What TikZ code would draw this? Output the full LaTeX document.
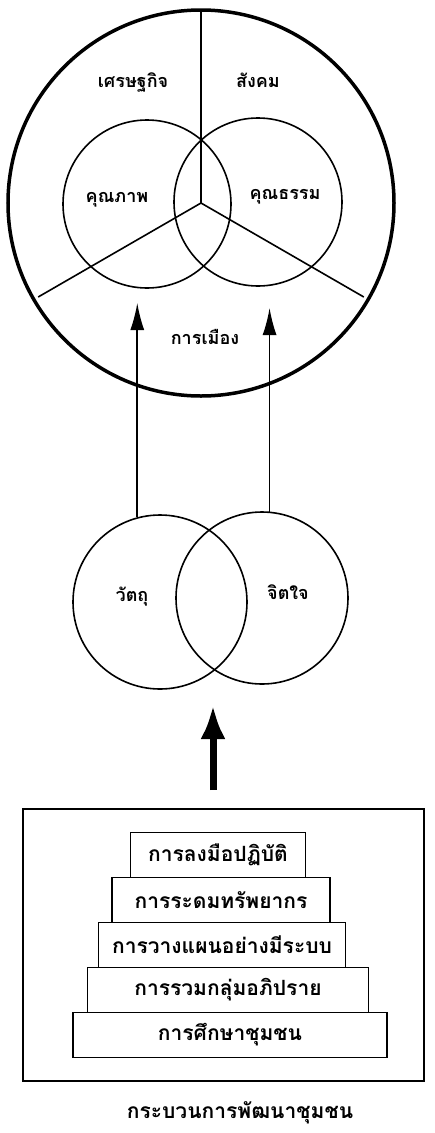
\documentclass[tikz,border=0pt]{standalone}
\usepackage{fontspec}
\usepackage{tikz}
\usetikzlibrary{arrows.meta,positioning}
\newfontfamily\thaifont[Script=Thai]{Loma}

\tikzset{
  lbl/.style={font=\thaifont\bfseries\fontsize{18}{20}\selectfont, inner sep=0pt},
  steptxt/.style={font=\thaifont\bfseries\fontsize{21}{24}\selectfont},
  ring/.style={circle, draw, line width=1.6pt, minimum size=#1, inner sep=0pt},
  stepbox/.style={draw, line width=1.6pt, fill=white, minimum height=45pt, inner sep=0pt, steptxt},
  arr/.style={line width=1.6pt, -{Latex[length=27pt,width=14pt]}},
  bigarr/.style={line width=7pt, -{Latex[length=34pt,width=25pt]}}
}

\begin{document}
\begin{tikzpicture}[x=1pt,y=-1pt]
\useasboundingbox (0,0) rectangle (434,1133);

%Big circle and its three parts
\coordinate (hub) at (201,203);
\draw[line width=3.5pt] (hub) circle (193pt);
\draw[line width=1.6pt] (hub) -- +(90:193pt);
\draw[line width=1.6pt] (hub) -- +(210:188pt);
\draw[line width=1.6pt] (hub) -- +(330:188pt);

%Inner circles
\node[ring=168pt] (quality) at (147,204) {};
\node[ring=168pt] (virtue) at (258,202) {};

%Labels of the big circle
\node[lbl] (economy) at (133,82) {เศรษฐกิจ};
\node[lbl] (society) at (258,80) {สังคม};
\node[lbl] (qualitylbl) at (117,200) {คุณภาพ};
\node[lbl] (virtuelbl) at (285,197) {คุณธรรม};
\node[lbl] (politics) at (205,337) {การเมือง};

%Lower circles
\node[ring=174pt] (matter) at (160,602) {};
\node[ring=172pt] (mind) at (262,598) {};
\node[lbl] (matterlbl) at (132,597) {วัตถุ};
\node[lbl] (mindlbl) at (288,592) {จิตใจ};

%Arrows into the big circle
\coordinate (tipL) at (137,303);
\coordinate (tipR) at (270,308);
\draw[arr] (matter.105) -- (matter.105 |- tipL);
\draw[arr] (mind.85) -- (mind.85 |- tipR);

%Frame of the process
\node[draw, line width=1.6pt, minimum width=401pt, minimum height=272pt, inner sep=0pt, anchor=north west] (frame) at (22,808) {};

%Thick arrow
\coordinate (tipC) at (213,705);
\draw[bigarr] ([yshift=18pt]frame.north -| tipC) -- (tipC);

%Steps
\node[stepbox, minimum width=314pt] (step5) at (230,1035) {การศึกษาชุมชน};
\node[stepbox, minimum width=281pt] (step4) at (228,990) {การรวมกลุ่มอภิปราย};
\node[stepbox, minimum width=247pt] (step3) at (222,945) {การวางแผนอย่างมีระบบ};
\node[stepbox, minimum width=218pt] (step2) at (221,900) {การระดมทรัพยากร};
\node[stepbox, minimum width=175pt] (step1) at (218,855) {การลงมือปฏิบัติ};

%Caption
\node[steptxt] (caption) at (240,1113) {กระบวนการพัฒนาชุมชน};
\end{tikzpicture}
\end{document}
